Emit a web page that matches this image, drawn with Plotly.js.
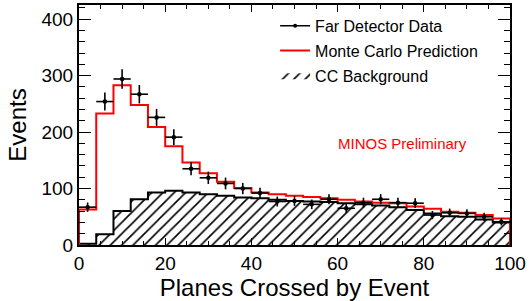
<!DOCTYPE html>
<html>
<head>
<meta charset="utf-8">
<script src="https://cdn.plot.ly/plotly-3.0.1.min.js"></script>
<style>html,body{margin:0;padding:0;background:#fff;}#chart{width:531px;height:301px;}</style>
</head>
<body>
<div id="chart"></div>
<script>
// Bin edges (Planes Crossed by Event), 4-plane bins
const binEdges = [0,4,8,12,16,20,24,28,32,36,40,44,48,52,56,60,64,68,72,76,80,84,88,92,96,100];
// Bin centres for the data points
const binCenters = [2,6,10,14,18,22,26,30,34,38,42,46,50,54,58,62,66,70,74,78,82,86,90,94,98];
// Far Detector Data
const dataEvents = [67,254,294,267,226,191,135,119,109,100,92,77,78,72,81,65,75,81,75,74,53,57,56,50,41];
const dataErrors = [8.2,15.9,17.1,16.3,15.0,13.8,11.6,10.9,10.4,10.0,9.6,8.8,8.8,8.5,9.0,8.1,8.7,9.0,8.7,8.6,7.3,7.5,7.5,7.1,6.4];
// Monte Carlo Prediction
const mcEvents = [63,233,283,248,209,175,146,127,112,101,93,90,87,85,83,80,77,75,74,68,64,59,57,53,47];
// CC Background
const ccEvents = [2,19,60,81,93,96,93,90,87,84,83,80,78,77,76,74,72,70,67,62,56,51,50,45,40];

function step(edges, vals){
  const x=[edges[0]], y=[0];
  for(let i=0;i<vals.length;i++){ x.push(edges[i]); y.push(vals[i]); }
  x.push(edges[edges.length-1]); y.push(vals[vals.length-1]);
  x.push(edges[edges.length-1]); y.push(0);
  return {x,y};
}
const ccStep = step(binEdges, ccEvents);
const mcStep = step(binEdges, mcEvents);
const FONT = "Liberation Sans, Arial, Helvetica, sans-serif";

const traces = [
  {x: ccStep.x, y: ccStep.y, type:'scatter', mode:'lines', line:{shape:'hv', width:0, color:'black'},
   fill:'tozeroy', fillcolor:'white',
   fillpattern:{shape:'/', fgcolor:'black', bgcolor:'white', size:8, solidity:0.2, fillmode:'replace'},
   name:'CC Background', legendrank:3, legendgroup:'c', hoverinfo:'skip'},
  {x: ccStep.x, y: ccStep.y, type:'scatter', mode:'lines', line:{shape:'hv', width:2, color:'black'},
   showlegend:false, hoverinfo:'skip'},
  {x: mcStep.x, y: mcStep.y, type:'scatter', mode:'lines', line:{shape:'hv', width:2, color:'#ff0000'},
   name:'Monte Carlo Prediction', legendrank:2, legendgroup:'b'},
  {x: binCenters, y: dataEvents, type:'scatter', mode:'markers',
   marker:{color:'black', size:4.5},
   error_y:{type:'data', array:dataErrors, visible:true, color:'black', thickness:1.6, width:0},
   error_x:{type:'constant', value:2, visible:true, color:'black', thickness:1.6, width:0},
   showlegend:false},
  {x:[null], y:[null], type:'scatter', mode:'lines+markers', line:{color:'black', width:1.5},
   marker:{color:'black', size:4}, name:'Far Detector Data', legendrank:1, legendgroup:'a'}
];

const layout = {
  width:531, height:301,
  margin:{l:79, r:21, t:5, b:56},
  paper_bgcolor:'white', plot_bgcolor:'white',
  font:{family:FONT, color:'black'},
  showlegend:true,
  legend:{x:0.455, y:0.984, xanchor:'left', yanchor:'top', bgcolor:'rgba(0,0,0,0)',
          font:{size:16, family:FONT}, traceorder:'grouped', tracegroupgap:1, itemwidth:30},
  xaxis:{range:[0,100], dtick:20, tick0:0, ticks:'inside', ticklen:7, tickwidth:1, tickcolor:'black',
         showline:true, linecolor:'black', linewidth:2, mirror:'allticks', showgrid:false, zeroline:false,
         minor:{dtick:5, ticks:'inside', ticklen:4, tickcolor:'black', showgrid:false},
         tickfont:{size:19, family:FONT},
         title:{text:'Planes Crossed by Event', font:{size:24, family:FONT}, standoff:0}},
  yaxis:{range:[0,425], dtick:100, tick0:0, ticks:'inside', ticklen:12, tickwidth:1, tickcolor:'black',
         showline:true, linecolor:'black', linewidth:2, mirror:'allticks', showgrid:false, zeroline:false,
         minor:{dtick:20, ticks:'inside', ticklen:6, tickcolor:'black', showgrid:false},
         tickfont:{size:19, family:FONT},
         title:{text:'Events', font:{size:24, family:FONT}, standoff:8}},
  annotations:[{x:75, y:179, xref:'x', yref:'y', text:'MINOS Preliminary', showarrow:false,
                font:{size:15, color:'#ff0000', family:FONT}}]
};
Plotly.newPlot('chart', traces, layout, {displayModeBar:false, staticPlot:true});
</script>
</body>
</html>
